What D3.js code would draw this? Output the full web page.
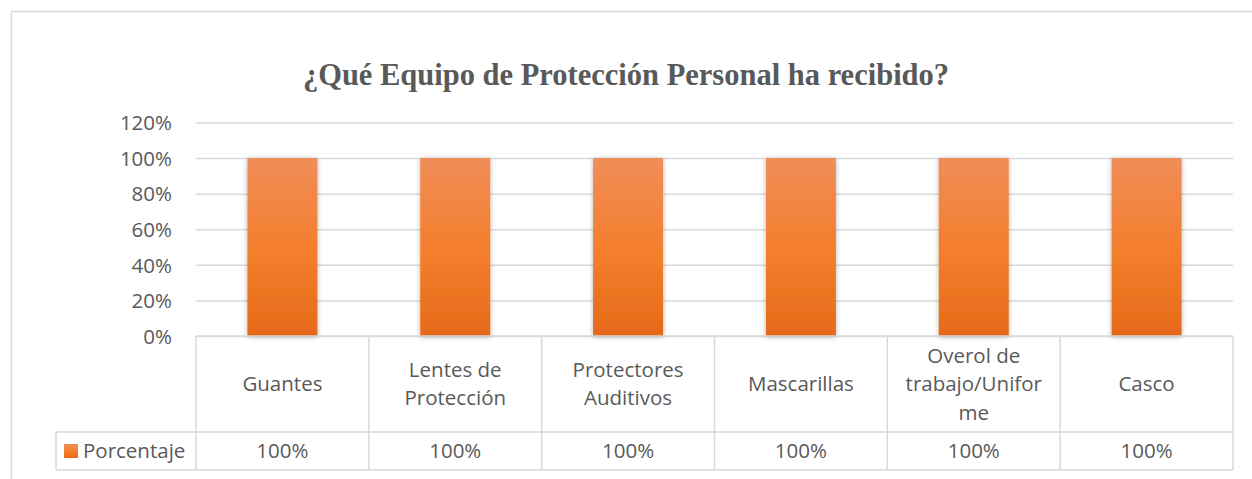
<!DOCTYPE html>
<html lang="es">
<head>
<meta charset="UTF-8">
<title>Equipo de Protección Personal</title>
<script src="https://d3js.org/d3.v7.min.js"></script>
<style>
  body { margin: 0; background: #fff; }
  svg { display: block; }
  .tick text, .cell { font-family: "Open Sans", sans-serif; fill: #595959; font-size: 20.5px; }
  .title { font-family: "Liberation Serif", "Times New Roman", serif; font-weight: bold; fill: #595959; font-size: 30.5px; }
</style>
</head>
<body>
<svg id="chart" width="1252" height="479"></svg>
<script>
  // data
  const categories = ["Guantes", "Lentes de\nProtección", "Protectores\nAuditivos", "Mascarillas", "Overol de\ntrabajo/Unifor\nme", "Casco"];
  const porcentaje = [1, 1, 1, 1, 1, 1];
  const seriesName = "Porcentaje";
  const yTicks = [0, 0.2, 0.4, 0.6, 0.8, 1.0, 1.2];

  const svg = d3.select("#chart");
  const plotL = 196, plotR = 1233, plotT = 122.5, plotB = 336;
  const rowCat = 432, rowVal = 470, legendX = 56;

  // chart frame (only left and top edges are inside the picture)
  svg.append("path").attr("d", "M11.5,479 L11.5,11.5 L1252,11.5")
    .attr("fill", "none").attr("stroke", "#d9d9d9").attr("stroke-width", 1.5);

  const defs = svg.append("defs");
  const grad = defs.append("linearGradient").attr("id", "barGrad")
    .attr("x1", 0).attr("y1", 0).attr("x2", 0).attr("y2", 1);
  grad.append("stop").attr("offset", "0%").attr("stop-color", "#f08d58");
  grad.append("stop").attr("offset", "50%").attr("stop-color", "#f47f2e");
  grad.append("stop").attr("offset", "100%").attr("stop-color", "#e56a19");
  const shadow = defs.append("filter").attr("id", "shadow")
    .attr("x", "-20%").attr("y", "-5%").attr("width", "140%").attr("height", "110%");
  shadow.append("feDropShadow").attr("dx", 0).attr("dy", 1).attr("stdDeviation", 2.5)
    .attr("flood-color", "#000").attr("flood-opacity", 0.3);

  const x = d3.scaleBand().domain(d3.range(categories.length)).range([plotL, plotR]).paddingInner(0).paddingOuter(0);
  const y = d3.scaleLinear().domain([0, 1.2]).range([plotB, plotT]);

  // title
  svg.append("text").attr("class", "title").attr("x", 626).attr("y", 85)
    .attr("text-anchor", "middle").text("¿Qué Equipo de Protección Personal ha recibido?");

  // y axis with gridlines
  const yAxis = svg.append("g").attr("transform", `translate(${plotL},0)`)
    .call(d3.axisLeft(y).tickValues(yTicks).tickFormat(d3.format(".0%")).tickSize(-(plotR - plotL)).tickPadding(24));
  yAxis.select(".domain").remove();
  yAxis.selectAll(".tick line").attr("stroke", "#d9d9d9").attr("stroke-width", 1.5);
  yAxis.selectAll(".tick text").attr("dy", "0.35em");

  // bars
  const barW = 70;
  svg.append("g").selectAll("rect").data(porcentaje).join("rect")
    .attr("x", (d, i) => x(i) + x.bandwidth() / 2 - barW / 2)
    .attr("y", d => y(d))
    .attr("width", barW)
    .attr("height", d => y(0) - y(d))
    .attr("fill", "url(#barGrad)")
    .attr("filter", "url(#shadow)");

  // data table
  const grid = svg.append("g").attr("stroke", "#d9d9d9").attr("stroke-width", 1.5).attr("fill", "none");
  grid.append("line").attr("x1", plotL).attr("x2", plotR).attr("y1", plotB).attr("y2", plotB);
  grid.append("line").attr("x1", legendX).attr("x2", plotR).attr("y1", rowCat).attr("y2", rowCat);
  grid.append("line").attr("x1", legendX).attr("x2", plotR).attr("y1", rowVal).attr("y2", rowVal);
  grid.append("line").attr("x1", legendX).attr("x2", legendX).attr("y1", rowCat).attr("y2", rowVal);
  grid.selectAll(".v").data(d3.range(categories.length + 1)).join("line")
    .attr("x1", i => i < categories.length ? x(i) : plotR)
    .attr("x2", i => i < categories.length ? x(i) : plotR)
    .attr("y1", plotB).attr("y2", rowVal);

  // category labels
  const lh = 28.5;
  svg.append("g").selectAll("text").data(categories).join("text")
    .attr("class", "cell").attr("text-anchor", "middle")
    .attr("x", (d, i) => x(i) + x.bandwidth() / 2)
    .attr("y", d => (plotB + rowCat) / 2 + 7 - (d.split("\n").length - 1) * lh / 2)
    .each(function (d) {
      const t = d3.select(this);
      d.split("\n").forEach((s, k) => {
        t.append("tspan").attr("x", t.attr("x")).attr("dy", k ? lh : 0).text(s);
      });
    });

  // values row
  svg.append("g").selectAll("text").data(porcentaje).join("text")
    .attr("class", "cell").attr("text-anchor", "middle")
    .attr("x", (d, i) => x(i) + x.bandwidth() / 2)
    .attr("y", (rowCat + rowVal) / 2 + 7)
    .text(d => d3.format(".0%")(d));

  // legend key
  svg.append("rect").attr("x", 64).attr("y", (rowCat + rowVal) / 2 - 7).attr("width", 14).attr("height", 14)
    .attr("fill", "url(#barGrad)");
  svg.append("text").attr("class", "cell").attr("x", 83).attr("y", (rowCat + rowVal) / 2 + 7).text(seriesName);
</script>
</body>
</html>
